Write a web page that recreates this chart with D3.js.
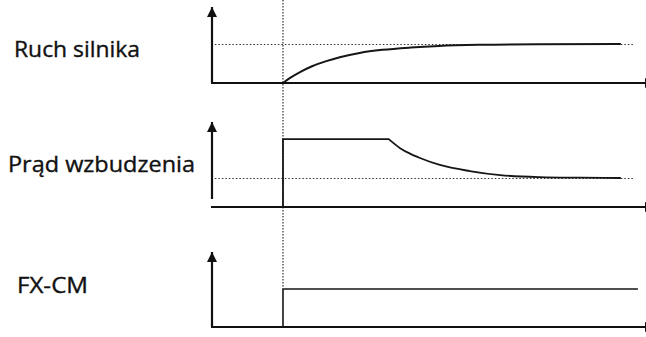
<!DOCTYPE html>
<html>
<head>
<meta charset="utf-8">
<script src="https://cdn.jsdelivr.net/npm/d3@7"></script>
<style>
  html, body { margin: 0; padding: 0; background: #fff; overflow: hidden; }
  svg { display: block; }
  .label { font-family: "Open Sans", sans-serif; fill: #111; stroke: #111; stroke-width: 0.35px; }
</style>
</head>
<body>
<svg id="chart" width="646" height="337"></svg>
<script>
// time in arbitrary units, event (switch-on) at t = 1
const eventTime = 1;
const timeEnd = 6.1;

const labels = ['Ruch silnika', 'Prąd wzbudzenia', 'FX-CM'];

// motor motion, normalised to the dotted reference level (1)
const motionT = [1.0, 1.1, 1.24, 1.41, 1.61, 1.8, 2.08, 2.4, 2.8, 3.2, 3.8, 4.6, 5.76];
const motionV = [0, 0.13, 0.28, 0.43, 0.56, 0.66, 0.77, 0.85, 0.91, 0.95, 0.98, 0.995, 1.0];

// excitation current, dotted level = 1
const currentT = [1.0, 1.0, 2.49, 2.65, 2.79, 2.93, 3.21, 3.63, 4.06, 4.62, 5.18, 5.76];
const currentV = [0, 2.34, 2.34, 2.03, 1.84, 1.69, 1.45, 1.24, 1.10, 1.03, 1.01, 1.0];

// FX-CM signal
const fxT = [1.0, 1.0, 6.0];
const fxV = [0, 1, 1];

// dotted reference levels (panel index, value)
const refLevels = [[0, 1], [1, 1]];
const refSpan = [0.04, 5.94];

const svg = d3.select('#chart');
const x = d3.scaleLinear().domain([0, timeEnd]).range([212, 645]);

// panel layout: baseline position, px of the unit level, arrow tip, axis bottom
const panels = [
  { base: 83, unit: 44, tip: 7, axisBottom: 83 },
  { base: 207, unit: 178, tip: 122, axisBottom: 199 },
  { base: 327, unit: 289, tip: 252, axisBottom: 327 },
];
const yScales = panels.map(p => d3.scaleLinear().domain([0, 1]).range([p.base, p.unit]));

const defs = svg.append('defs');
defs.append('marker')
  .attr('id', 'arrow')
  .attr('viewBox', '0 0 10 10')
  .attr('refX', 10)
  .attr('refY', 5)
  .attr('markerWidth', 10)
  .attr('markerHeight', 10)
  .attr('markerUnits', 'userSpaceOnUse')
  .attr('orient', 'auto')
  .append('path')
  .attr('d', 'M0,0L10,5L0,10Z')
  .attr('fill', '#111');

// vertical dotted line at the switch-on moment
svg.append('line')
  .attr('x1', x(eventTime)).attr('x2', x(eventTime))
  .attr('y1', 0).attr('y2', panels[2].unit - 2)
  .attr('stroke', '#333')
  .attr('stroke-width', 1.2)
  .attr('stroke-dasharray', '1.5,1.5');

// horizontal dotted reference levels
refLevels.forEach(([i, v]) => {
  svg.append('line')
    .attr('x1', x(refSpan[0])).attr('x2', x(refSpan[1]))
    .attr('y1', Math.round(yScales[i](v)) + 0.5).attr('y2', Math.round(yScales[i](v)) + 0.5)
    .attr('stroke', '#333')
    .attr('stroke-width', 1.2)
    .attr('stroke-dasharray', '1.5,2');
});

// axes
panels.forEach((p) => {
  svg.append('line')
    .attr('x1', x(0)).attr('x2', x(0))
    .attr('y1', p.axisBottom).attr('y2', p.tip)
    .attr('stroke', '#111')
    .attr('stroke-width', 2.2)
    .attr('marker-end', 'url(#arrow)');
  // the time arrow runs out of the picture, only its base shows
  svg.append('line')
    .attr('x1', x(0) - 1).attr('x2', x(timeEnd) + 10)
    .attr('y1', p.base).attr('y2', p.base)
    .attr('stroke', '#111')
    .attr('stroke-width', 2.2)
    .attr('marker-end', 'url(#arrow)');
});

// signals
const series = [
  { t: motionT, v: motionV, curve: d3.curveMonotoneX, w: 2 },
  { t: currentT, v: currentV, curve: d3.curveLinear, w: 1.8 },
  { t: fxT, v: fxV, curve: d3.curveLinear, w: 1.6 },
];

series.forEach((s, i) => {
  const pts = s.t.map((t, j) => [t, s.v[j]]);
  let line;
  if (i === 1) {
    // step + plateau straight, decay smooth
    const head = pts.slice(0, 3);
    const tail = pts.slice(2);
    const straight = d3.line().x(d => x(d[0])).y(d => yScales[i](d[1]));
    const smooth = d3.line().x(d => x(d[0])).y(d => yScales[i](d[1])).curve(d3.curveMonotoneX);
    line = straight(head) + smooth(tail).replace(/^M/, 'L');
  } else {
    line = d3.line().x(d => x(d[0])).y(d => yScales[i](d[1])).curve(s.curve)(pts);
  }
  svg.append('path')
    .attr('d', line)
    .attr('fill', 'none')
    .attr('stroke', '#161616')
    .attr('stroke-width', s.w);
});

// labels
const labelPos = [[14, 57, 126], [8, 172, 187], [17, 293, 71]];
labels.forEach((txt, i) => {
  svg.append('text')
    .attr('class', 'label')
    .attr('x', labelPos[i][0])
    .attr('y', labelPos[i][1])
    .attr('font-size', 21)
    .attr('textLength', labelPos[i][2])
    .attr('lengthAdjust', 'spacingAndGlyphs')
    .text(txt);
});
</script>
</body>
</html>
